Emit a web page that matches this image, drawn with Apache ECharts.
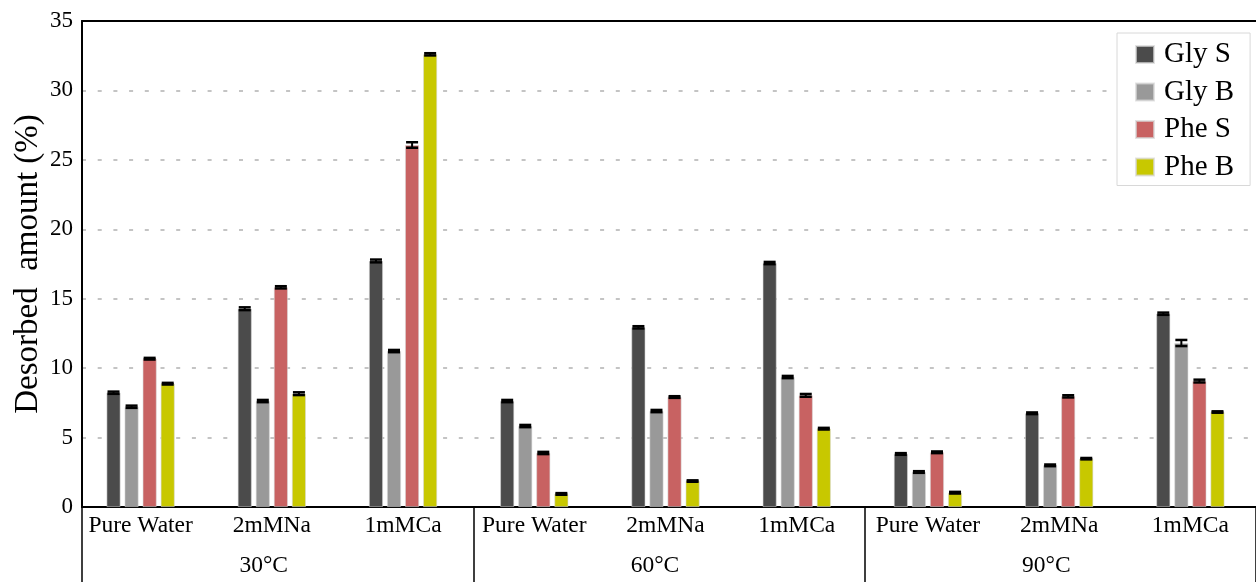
<!DOCTYPE html>
<html>
<head>
<meta charset="utf-8">
<script src="https://cdn.jsdelivr.net/npm/echarts@6/dist/echarts.min.js"></script>
<style>
  html, body { margin: 0; padding: 0; background: #fff; }
  #chart { width: 1256px; height: 582px; }
</style>
</head>
<body>
<div id="chart"></div>
<script>
// Desorbed amount by solution and temperature
const categories = ['Pure Water', '2mMNa', '1mMCa', 'Pure Water', '2mMNa', '1mMCa', 'Pure Water', '2mMNa', '1mMCa'];
const temperatures = ['30°C', '60°C', '90°C'];
const seriesNames = ['Gly S', 'Gly B', 'Phe S', 'Phe B'];

const glyS = [8.23, 14.28, 17.72, 7.63, 12.94, 17.57, 3.82, 6.75, 13.92];
const glyB = [7.22, 7.63, 11.23, 5.83, 6.91, 9.36, 2.52, 3.00, 11.81];
const pheS = [10.68, 15.82, 26.07, 3.89, 7.92, 8.04, 3.94, 7.97, 9.07];
const pheB = [8.88, 8.16, 32.60, 0.94, 1.87, 5.64, 1.03, 3.48, 6.84];

const glySErr = [0.08, 0.10, 0.10, 0.08, 0.08, 0.08, 0.06, 0.06, 0.08];
const glyBErr = [0.08, 0.08, 0.08, 0.08, 0.08, 0.08, 0.06, 0.06, 0.22];
const pheSErr = [0.06, 0.08, 0.20, 0.08, 0.06, 0.10, 0.06, 0.08, 0.10];
const pheBErr = [0.06, 0.10, 0.08, 0.06, 0.05, 0.06, 0.06, 0.05, 0.05];

const yTicks = { min: 0, max: 35, interval: 5 };

const colors = ['#4b4b4b', '#999999', '#c86262', '#c8c800'];
const values = [glyS, glyB, pheS, pheB];
const errors = [glySErr, glyBErr, pheSErr, pheBErr];

const FONT = '"Liberation Serif", "Times New Roman", serif';
const BAR_W = 14;
const BAR_GAP = 0.29;

const chart = echarts.init(document.getElementById('chart'), null, { renderer: 'canvas' });

const barSeries = values.map((vals, s) => ({
  name: seriesNames[s],
  type: 'bar',
  xAxisIndex: 0,
  yAxisIndex: 0,
  barWidth: BAR_W,
  barGap: (BAR_GAP * 100) + '%',
  itemStyle: { color: colors[s], borderColor: 'rgba(215,215,215,0.7)', borderWidth: 0.8 },
  data: vals,
  z: 2
}));

// Error bars placed on top of each bar of the group
const errorSeries = values.map((vals, s) => ({
  type: 'custom',
  xAxisIndex: 0,
  yAxisIndex: 0,
  z: 5,
  silent: true,
  encode: { x: 0, y: 1 },
  data: vals.map((v, i) => [i, v, errors[s][i]]),
  renderItem: function (params, api) {
    const i = api.value(0);
    const v = api.value(1);
    const e = api.value(2);
    const step = BAR_W * (1 + BAR_GAP);
    const offset = (s - 1.5) * step;
    const x = api.coord([i, v])[0] + offset;
    const yTop = api.coord([i, v + e])[1];
    const yBot = api.coord([i, v - e])[1];
    const half = 6;
    const style = { stroke: '#000', lineWidth: 2.5 };
    return {
      type: 'group',
      children: [
        { type: 'line', shape: { x1: x, y1: yTop, x2: x, y2: yBot }, style: { stroke: '#000', lineWidth: 2 } },
        { type: 'line', shape: { x1: x - half, y1: yTop, x2: x + half, y2: yTop }, style: style },
        { type: 'line', shape: { x1: x - half, y1: yBot, x2: x + half, y2: yBot }, style: style }
      ]
    };
  }
}));

const option = {
  animation: false,
  backgroundColor: '#fff',
  textStyle: { fontFamily: FONT },
  grid: [
    { left: 75, top: 21, width: 1203, height: 486 },
    { left: 82, top: 21, width: 1177.5, height: 486 }
  ],
  legend: {
    data: seriesNames,
    orient: 'vertical',
    left: 1117,
    top: 33,
    backgroundColor: '#fff',
    borderColor: '#d8d8d8',
    borderWidth: 1,
    padding: [7, 16, 4, 18],
    itemWidth: 18,
    itemHeight: 17,
    itemGap: 8.5,
    icon: 'rect',
    textStyle: { fontFamily: FONT, fontSize: 29, color: '#000', padding: [0, 0, 0, 5] }
  },
  xAxis: [
    {
      type: 'category',
      gridIndex: 0,
      data: categories,
      axisLine: { show: false },
      axisTick: { show: false },
      axisLabel: { fontFamily: FONT, fontSize: 23.5, color: '#000', margin: 7, interval: 0 }
    },
    {
      type: 'category',
      gridIndex: 1,
      data: temperatures,
      position: 'bottom',
      axisLine: { show: true, lineStyle: { color: '#000', width: 2 } },
      axisTick: { show: true, length: 76, interval: 0, lineStyle: { color: '#000', width: 1.5 } },
      axisLabel: { fontFamily: FONT, fontSize: 23.5, color: '#000', margin: 47, padding: [0, 28, 0, 0] }
    },
    {
      type: 'category',
      gridIndex: 1,
      data: temperatures,
      position: 'top',
      axisLine: { show: true, lineStyle: { color: '#000', width: 2 } },
      axisTick: { show: false },
      axisLabel: { show: false }
    }
  ],
  yAxis: [
    {
      type: 'value',
      gridIndex: 0,
      min: yTicks.min, max: yTicks.max, interval: yTicks.interval,
      show: false
    },
    {
      type: 'value',
      gridIndex: 1,
      min: yTicks.min, max: yTicks.max, interval: yTicks.interval,
      name: 'Desorbed  amount (%)',
      nameLocation: 'middle',
      nameGap: 37,
      nameMoveOverlap: false,
      nameTextStyle: { fontFamily: FONT, fontSize: 33, color: '#000' },
      axisLine: { show: true, lineStyle: { color: '#000', width: 2 } },
      axisTick: { show: false },
      axisLabel: { fontFamily: FONT, fontSize: 23, color: '#000', margin: 9 },
      splitLine: { show: true, lineStyle: { color: '#c4c4c4', width: 2, type: [4, 11.7] } }
    }
  ],
  series: barSeries.concat(errorSeries)
};

chart.setOption(option);
</script>
</body>
</html>
